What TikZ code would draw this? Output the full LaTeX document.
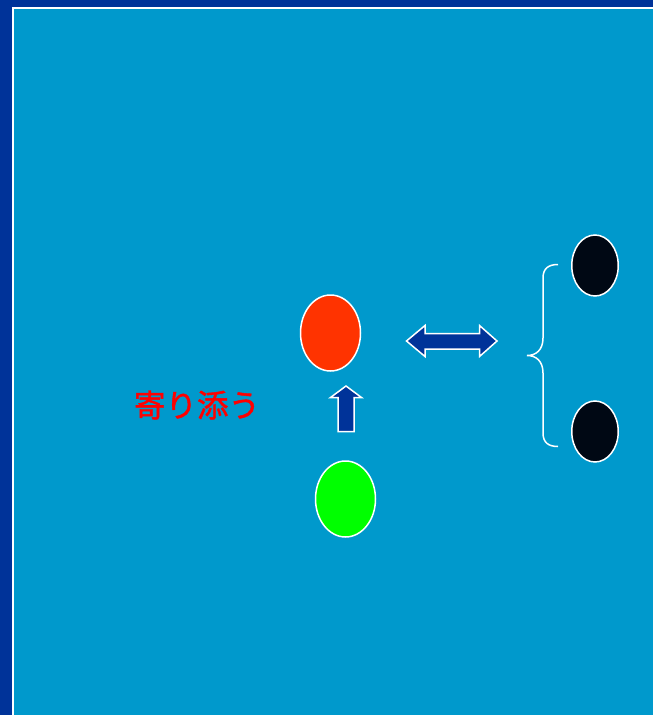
\documentclass[tikz,border=0pt]{standalone}
\usepackage{fontspec}
\newfontfamily\cjk[FakeBold=1.3]{Noto Sans CJK JP}
\usetikzlibrary{shapes.geometric,shapes.arrows}
\definecolor{darkb}{HTML}{003399}
\definecolor{cyanb}{HTML}{0099CC}
\definecolor{redo}{HTML}{FF3300}
\definecolor{greeno}{HTML}{00FF00}
\definecolor{blacko}{HTML}{000814}
\tikzset{
  oval/.style={ellipse, draw=white, line width=1.5pt, inner sep=0pt},
  blockarrow/.style={fill=darkb, draw=white, line width=1.5pt, line join=miter},
}
\begin{document}
\begin{tikzpicture}[x=1pt,y=-1pt]
\useasboundingbox (0,0) rectangle (653,715);
\fill[darkb] (0,0) rectangle (653,715);
\fill[white] (11.5,7) rectangle (653,715);
\fill[cyanb] (13.5,9) rectangle (653,715);
% ovals
\node[oval, fill=redo, minimum width=60pt, minimum height=76pt] (red) at (330.5,333) {};
\node[oval, fill=greeno, minimum width=60pt, minimum height=76pt] (green) at (345.5,499) {};
\node[oval, fill=blacko, minimum width=46.5pt, minimum height=61pt] (b1) at (595,265.5) {};
\node[oval, fill=blacko, minimum width=46.5pt, minimum height=61pt] (b2) at (595,431.5) {};
% up arrow
\draw[blockarrow] (338,431.5) -- (338,397.5) -- (330.5,397.5) -- (346,386) -- (361.5,397.5) -- (354,397.5) -- (354,431.5) -- cycle;
% double arrow
\draw[blockarrow] (406.5,341) -- (425,325.5) -- (425,333.5) -- (479.5,333.5) -- (479.5,325.5) -- (497,341) -- (479.5,356.5) -- (479.5,349) -- (425,349) -- (425,356.5) -- cycle;
% brace
\coordinate (btop) at (558,264.5);
\coordinate (bbot) at (558,446.5);
\coordinate (btip) at (527,355.5);
\draw[white, line width=1.5pt] (btop) .. controls (549,264.5) and (543,268) .. (543,278) -- (543,338) .. controls (543,350) and (536,355.5) .. (btip) .. controls (536,355.5) and (543,361) .. (543,373) -- (543,433) .. controls (543,443) and (549,446.5) .. (bbot);
% text
\node[text=red, font=\cjk\fontsize{31.5}{34}\selectfont, inner sep=0pt] (lbl) at (197,405) {寄り添う};
\end{tikzpicture}
\end{document}
